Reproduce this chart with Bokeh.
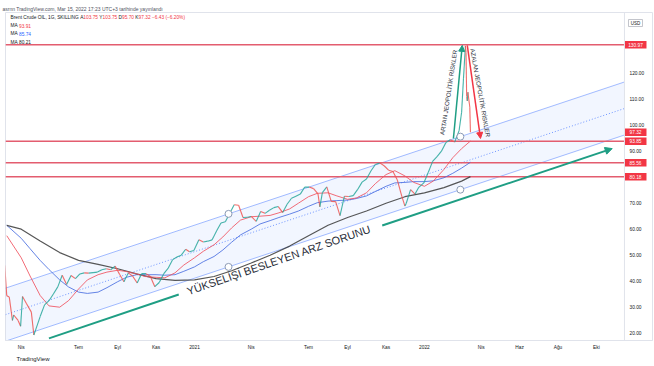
from datetime import datetime, timedelta
import math
from bokeh.plotting import figure
from bokeh.models import (Range1d, FixedTicker, Label, Arrow, NormalHead, Title, Span)
from bokeh.core.properties import value
from bokeh.embed import file_html
from bokeh.resources import INLINE

# ---------------- data ----------------
price_dates = ["2020-03-02", "2020-03-06", "2020-03-09", "2020-03-13", "2020-03-18", "2020-03-20",
               "2020-03-27", "2020-03-31", "2020-04-03", "2020-04-09", "2020-04-17", "2020-04-21",
               "2020-04-24", "2020-05-01", "2020-05-08", "2020-05-15", "2020-05-22", "2020-05-29",
               "2020-06-05", "2020-06-12", "2020-06-19", "2020-06-26", "2020-07-03", "2020-07-10",
               "2020-07-17", "2020-07-24", "2020-07-31", "2020-08-07", "2020-08-14", "2020-08-21",
               "2020-08-28", "2020-09-04", "2020-09-11", "2020-09-18", "2020-09-25", "2020-10-02",
               "2020-10-09", "2020-10-16", "2020-10-23", "2020-10-30", "2020-11-06", "2020-11-13",
               "2020-11-20", "2020-11-27", "2020-12-04", "2020-12-11", "2020-12-18", "2020-12-24",
               "2020-12-31", "2021-01-08", "2021-01-15", "2021-01-22", "2021-01-29", "2021-02-05",
               "2021-02-12", "2021-02-19", "2021-02-26", "2021-03-05", "2021-03-12", "2021-03-19",
               "2021-03-26", "2021-04-01", "2021-04-09", "2021-04-16", "2021-04-23", "2021-04-30",
               "2021-05-07", "2021-05-14", "2021-05-21", "2021-05-28", "2021-06-04", "2021-06-11",
               "2021-06-18", "2021-06-25", "2021-07-02", "2021-07-09", "2021-07-16", "2021-07-19",
               "2021-07-23", "2021-07-30", "2021-08-06", "2021-08-13", "2021-08-20", "2021-08-27",
               "2021-09-03", "2021-09-10", "2021-09-17", "2021-09-24", "2021-10-01", "2021-10-08",
               "2021-10-15", "2021-10-22", "2021-10-29", "2021-11-05", "2021-11-12", "2021-11-19",
               "2021-11-26", "2021-12-01", "2021-12-03", "2021-12-10", "2021-12-17", "2021-12-23",
               "2021-12-31", "2022-01-07", "2022-01-14", "2022-01-21", "2022-01-28", "2022-02-04",
               "2022-02-11", "2022-02-18", "2022-02-25", "2022-03-01", "2022-03-04", "2022-03-07",
               "2022-03-08", "2022-03-09", "2022-03-10", "2022-03-11", "2022-03-14", "2022-03-15"]
price_close = [51.9, 45.3, 34.4, 33.9, 24.9, 27.0,
               24.9, 22.7, 34.1, 31.5, 28.1, 19.3,
               21.4, 26.4, 30.9, 32.5, 35.1, 37.8,
               42.3, 38.7, 42.2, 41.0, 42.8, 43.2,
               43.1, 43.3, 43.5, 44.4, 44.8, 44.4,
               45.8, 42.7, 39.8, 43.2, 41.9, 39.3,
               42.9, 42.9, 41.8, 37.9, 39.5, 42.8,
               44.9, 48.2, 49.3, 50.0, 52.3, 51.3,
               51.8, 55.9, 55.1, 55.4, 55.9, 59.3,
               62.4, 62.9, 66.1, 69.4, 69.2, 64.5,
               64.6, 64.9, 63.0, 66.8, 66.1, 67.3,
               68.3, 68.7, 66.4, 69.6, 71.9, 72.7,
               73.5, 76.2, 76.2, 75.6, 73.6, 68.6,
               74.1, 76.3, 70.7, 70.6, 65.2, 72.7,
               72.6, 72.9, 75.3, 78.1, 79.3, 82.4,
               84.9, 85.5, 84.4, 82.7, 82.2, 78.9,
               72.7, 68.9, 69.9, 75.2, 73.5, 76.1,
               77.8, 81.8, 86.1, 87.9, 90.0, 93.3,
               94.4, 93.5, 97.9, 105.0, 118.1, 130.5,
               128.0, 111.1, 109.3, 112.7, 106.9, 97.32]

ma_dates = ["2020-03-09", "2020-04-01", "2020-04-15", "2020-05-01", "2020-05-15", "2020-06-01",
            "2020-06-15", "2020-07-01", "2020-07-15", "2020-08-01", "2020-08-15", "2020-09-01",
            "2020-09-15", "2020-10-01", "2020-10-15", "2020-11-01", "2020-11-15", "2020-12-01",
            "2020-12-15", "2021-01-01", "2021-01-15", "2021-02-01", "2021-02-15", "2021-03-01",
            "2021-03-15", "2021-04-01", "2021-04-15", "2021-05-01", "2021-05-15", "2021-06-01",
            "2021-06-15", "2021-07-01", "2021-07-15", "2021-08-01", "2021-08-15", "2021-09-01",
            "2021-09-15", "2021-10-01", "2021-10-15", "2021-11-01", "2021-11-15", "2021-12-01",
            "2021-12-15", "2022-01-01", "2022-01-15", "2022-02-01", "2022-02-15", "2022-03-01",
            "2022-03-15"]
ma_fast = [57.5, 49.0, 42.0, 34.5, 30.5, 30.0,
           32.5, 37.0, 40.5, 42.5, 43.5, 44.2,
           43.7, 42.8, 41.8, 41.5, 41.3, 43.2,
           46.2, 49.0, 51.5, 54.0, 57.0, 60.5,
           63.5, 64.8, 65.0, 65.3, 66.3, 67.8,
           70.0, 72.5, 73.8, 74.0, 72.8, 71.5,
           72.0, 74.0, 77.5, 81.0, 82.5, 80.5,
           78.0, 76.5, 78.5, 83.0, 87.5, 91.0,
           93.91]
ma_mid = [61.5, 56.5, 52.5, 48.0, 44.5, 40.5,
          37.8, 35.8, 35.3, 35.8, 37.5, 39.8,
          41.5, 42.5, 42.5, 42.5, 42.3, 42.5,
          43.8, 45.5, 47.5, 49.5, 52.0, 55.0,
          57.8, 60.0, 62.0, 63.3, 64.5, 65.8,
          67.0, 68.8, 70.2, 70.8, 71.0, 71.2,
          71.8, 72.8, 74.5, 76.5, 77.8, 78.0,
          78.3, 78.3, 78.6, 79.8, 81.5, 83.5,
          85.74]
ma_slow_dates = ["2020-03-09", "2020-04-01", "2020-05-01", "2020-06-01", "2020-07-01", "2020-08-01",
                 "2020-09-01", "2020-10-01", "2020-11-01", "2020-12-01", "2021-01-01", "2021-02-01",
                 "2021-03-01", "2021-04-01", "2021-05-01", "2021-06-01", "2021-07-01", "2021-08-01",
                 "2021-09-01", "2021-10-01", "2021-11-01", "2021-12-01", "2022-01-01", "2022-02-01",
                 "2022-03-01", "2022-03-15"]
ma_slow = [61.5, 60.0, 55.5, 51.0, 48.0, 46.5,
           44.8, 42.8, 41.0, 40.3, 40.5, 41.8,
           44.0, 47.0, 50.0, 53.5, 57.5, 61.5,
           64.5, 67.0, 70.0, 72.5, 74.0, 76.0,
           78.5, 80.21]

levels = [130.97, 93.85, 85.56, 80.18]
price_tags = [130.97, 97.32, 93.85, 85.56, 80.18]

chan_dates = ["2021-02-24", "2022-02-27"]
chan_mid = [55.7, 85.4]
chan_half = 10.2

y_ticks = [20, 30, 40, 50, 60, 70, 90, 100, 110, 120]
x_tick_dates = ["2020-04-01", "2020-07-01", "2020-09-01", "2020-11-01", "2021-01-01", "2021-04-01",
                "2021-07-01", "2021-09-01", "2021-11-01", "2022-01-01", "2022-04-01", "2022-06-01",
                "2022-08-01", "2022-10-01"]
x_tick_labels = ["Nis", "Tem", "Eyl", "Kas", "2021", "Nis", "Tem", "Eyl", "Kas", "2022",
                 "Nis", "Haz", "Ağu", "Eki"]

# annotation anchors (date, value)
supply_arrow_a = ("2020-05-15", 18.0, "2020-12-07", 34.9)
supply_arrow_b = ("2021-10-26", 61.4, "2022-10-26", 91.0)
supply_text = ("2021-05-15", 48.2)
up_arrow = ("2022-02-16", 94.9, "2022-03-02", 130.7)
down_arrow = ("2022-03-10", 130.7, "2022-03-31", 94.9)
up_text = ("2022-02-08", 112.6)
down_text = ("2022-03-31", 112.5)

# ---------------- helpers ----------------
EPOCH = datetime(1970, 1, 1)


def D(s):
    return datetime.strptime(s, "%Y-%m-%d")


def ms(dt):
    return (dt - EPOCH).total_seconds() * 1000.0


GREEN = "#26a69a"
RED = "#ef5350"
TAG = "#f23645"
FONT = "Liberation Sans"
UI = "4.8px"

ref = D("2021-01-01")
x_start = ref - timedelta(days=300)          # left edge of the frame
x_axis_sep = ref + timedelta(days=682.5)     # price-scale separator
x_end = ref + timedelta(days=727)            # right edge
x_ylab = ref + timedelta(days=690.5)         # y tick label anchor
x_tag = ref + timedelta(days=700)            # tag centre

p = figure(frame_width=647, frame_height=328, x_axis_type="datetime", y_axis_location=None,
           x_range=Range1d(x_start, x_end), y_range=Range1d(17.19, 143.35),
           output_backend="svg", toolbar_location=None,
           min_border_left=5, min_border_right=2, min_border_top=12, min_border_bottom=26)
p.grid.visible = False
p.outline_line_color = "#e0e3eb"
p.background_fill_color = "white"
p.border_fill_color = "white"

p.title.text = "asrnn TradingView.com, Mar 15, 2022 17:23 UTC+3 tarihinde yayınlandı"
p.title.align = "left"
p.title.offset = -3
p.title.standoff = 1
p.title.text_font = FONT
p.title.text_font_size = "5px"
p.title.text_font_style = "normal"
p.title.text_color = "#50535e"

p.add_layout(Title(text="TradingView", align="left", offset=11, standoff=3, text_font=FONT,
                   text_font_size="6px", text_font_style="normal", text_color="#131722"), "below")

ax = p.xaxis[0]
ax.axis_line_color = "#e0e3eb"
ax.major_tick_line_color = None
ax.minor_tick_line_color = None
ax.major_tick_out = 0
ax.major_tick_in = 0
ax.minor_tick_out = 0
ax.major_label_text_font = FONT
ax.major_label_text_font_size = UI
ax.major_label_text_color = "#131722"
ax.major_label_standoff = 4
xt = [ms(D(s)) for s in x_tick_dates]
ax.ticker = FixedTicker(ticks=xt)
ax.major_label_overrides = {t: lab for t, lab in zip(xt, x_tick_labels)}

# ---------------- regression channel ----------------
ca, cb = ms(D(chan_dates[0])), ms(D(chan_dates[1]))
slope = (chan_mid[1] - chan_mid[0]) / (cb - ca)
ex = [ms(x_start), ms(x_axis_sep)]
mid = [chan_mid[0] + slope * (x - ca) for x in ex]
up = [m + chan_half for m in mid]
lo = [m - chan_half for m in mid]
p.varea(x=ex, y1=lo, y2=up, fill_color="#2962ff", fill_alpha=0.06)
p.line(ex, up, line_color="#2962ff", line_alpha=0.42, line_width=1)
p.line(ex, lo, line_color="#2962ff", line_alpha=0.42, line_width=1)
p.line(ex, mid, line_color="#2962ff", line_alpha=0.65, line_width=1, line_dash="1 2")

# ---------------- horizontal levels ----------------
p.segment(x0=[x_start] * len(levels), x1=[x_axis_sep] * len(levels), y0=levels, y1=levels,
          line_color="#e35d6f", line_width=1.5)

# ---------------- moving averages ----------------
p.line([D(s) for s in ma_dates], ma_mid, line_color="#4a6fe0", line_width=1, line_alpha=0.85)
p.line([D(s) for s in ma_slow_dates], ma_slow, line_color="#3a3a3a", line_width=1.2, line_alpha=0.85)
p.line([D(s) for s in ma_dates], ma_fast, line_color="#f0525f", line_width=1, line_alpha=0.85)

# ---------------- price ----------------
pd_ = [D(s) for s in price_dates]
seg_col = [GREEN if price_close[i + 1] >= price_close[i] else RED for i in range(len(price_close) - 1)]
p.segment(x0=pd_[:-1], y0=price_close[:-1], x1=pd_[1:], y1=price_close[1:],
          line_color=seg_col, line_width=1.1, line_alpha=0.85)

# channel anchor handles
hx = [D(chan_dates[0]), D(chan_dates[0]), D(chan_dates[1]), D(chan_dates[1])]
hy = [chan_mid[0] + chan_half, chan_mid[0] - chan_half, chan_mid[1] + chan_half, chan_mid[1] - chan_half]
p.scatter(hx, hy, size=7, fill_color="white", line_color="#8d9bb5", line_width=1)

# ---------------- arrows ----------------
AG = "#1f9e84"
p.segment(x0=[D(supply_arrow_a[0])], y0=[supply_arrow_a[1]], x1=[D(supply_arrow_a[2])], y1=[supply_arrow_a[3]],
          line_color=AG, line_width=2)
p.add_layout(Arrow(x_start=ms(D(supply_arrow_b[0])), y_start=supply_arrow_b[1],
                   x_end=ms(D(supply_arrow_b[2])), y_end=supply_arrow_b[3],
                   line_color=AG, line_width=2,
                   end=NormalHead(size=7, fill_color=AG, line_color=AG)))
p.add_layout(Arrow(x_start=ms(D(up_arrow[0])), y_start=up_arrow[1],
                   x_end=ms(D(up_arrow[2])), y_end=up_arrow[3],
                   line_color=AG, line_width=1.5,
                   end=NormalHead(size=6, fill_color=AG, line_color=AG)))
p.add_layout(Arrow(x_start=ms(D(down_arrow[0])), y_start=down_arrow[1],
                   x_end=ms(D(down_arrow[2])), y_end=down_arrow[3],
                   line_color=TAG, line_width=1.5,
                   end=NormalHead(size=6, fill_color=TAG, line_color=TAG)))

# ---------------- texts ----------------
p.text(x=[D(supply_text[0])], y=[supply_text[1]], text=["YÜKSELİŞİ BESLEYEN ARZ SORUNU"],
       angle=math.radians(19), text_align="center", text_baseline="middle",
       text_font=value(FONT), text_font_size="11px", text_color="#2a2e39")
p.text(x=[D(up_text[0])], y=[up_text[1]], text=["ARTAN JEOPOLİTİK RİSKLER"],
       angle=math.radians(81.3), text_align="center", text_baseline="middle",
       text_font=value(FONT), text_font_size="6.2px", text_color="#2a2e39")
p.text(x=[D(down_text[0])], y=[down_text[1]], text=["AZALAN JEOPOLİTİK RİSKLER"],
       angle=-math.radians(79.9), text_align="center", text_baseline="middle",
       text_font=value(FONT), text_font_size="6.2px", text_color="#2a2e39")

# ---------------- price scale (right) ----------------
p.add_layout(Span(location=ms(x_axis_sep), dimension="height", line_color="#e0e3eb", line_width=1))
p.text(x=[x_ylab] * len(y_ticks), y=y_ticks, text=[f"{t:.2f}" for t in y_ticks],
       text_align="left", text_baseline="middle", text_font=value(FONT),
       text_font_size=UI, text_color="#131722")
p.rect(x=[x_tag] * len(price_tags), y=price_tags, width=22, height=7.5,
       width_units="screen", height_units="screen", fill_color=TAG, line_color=None)
p.text(x=[x_tag] * len(price_tags), y=price_tags, text=[f"{v:.2f}" for v in price_tags],
       text_align="center", text_baseline="middle", text_font=value(FONT),
       text_font_size=UI, text_color="white")
p.rect(x=[x_tag], y=[139.3], width=14, height=7, width_units="screen", height_units="screen",
       fill_color="white", line_color="#b2b5be", line_width=0.8)
p.text(x=[x_tag], y=[139.3], text=["USD"], text_align="center", text_baseline="middle",
       text_font=value(FONT), text_font_size="4.5px", text_color="#131722")

# ---------------- legend-like header (screen units inside frame) ----------------
EM = {".": .278, ",": .278, " ": .278, "-": .333, "−": .584, "(": .333, ")": .333, "%": .889,
      "A": .667, "B": .667, "C": .722, "D": .722, "G": .778, "I": .278, "K": .667, "L": .556,
      "M": .833, "N": .722, "O": .778, "S": .667, "Y": .667, "r": .333, "t": .278}
FS = 4.8


def tw(s):
    return sum(EM.get(c, .556) for c in s) * FS


def row(y, parts, x=5):
    for t, c in parts:
        p.add_layout(Label(x=x, y=y, x_units="screen", y_units="screen", text=t, text_color=c,
                           text_font=FONT, text_font_size=f"{FS}px", text_baseline="middle"))
        x += tw(t)


DK = "#131722"
row(323.3, [("Brent Crude OIL, 1G, SKILLING ", DK), ("A", DK), ("103.75 ", TAG), ("Y", DK),
            ("103.75 ", TAG), ("D", DK), ("95.70 ", TAG), ("K", DK), ("97.32 ", TAG),
            ("−6.43 (−6.20%)", TAG)])
row(315.0, [("MA ", DK), ("93.91", TAG)])
row(306.7, [("MA ", DK), ("85.74", "#2962ff")])
row(298.3, [("MA ", DK), ("80.21", DK)])

open("out.html", "w").write(file_html(p, INLINE))
